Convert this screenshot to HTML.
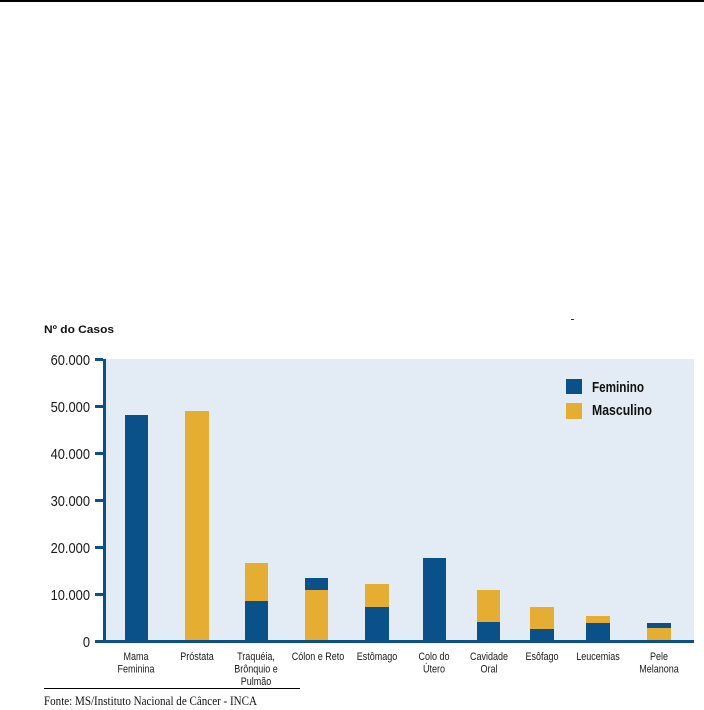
<!DOCTYPE html>
<html><head><meta charset="utf-8"><style>
html,body{margin:0;padding:0;background:#fff;}
svg{display:block;}
</style></head><body>
<svg width="704" height="710" viewBox="0 0 704 710" xmlns="http://www.w3.org/2000/svg">
<rect x="0" y="0" width="704" height="2" fill="#000"/>
<rect x="571" y="319" width="3" height="1" fill="#333"/>
<text x="44" y="333" font-family="Liberation Sans, sans-serif" font-weight="bold" font-size="11" fill="#111" textLength="70" lengthAdjust="spacingAndGlyphs">Nº do Casos</text>
<!-- plot bg -->
<rect x="106" y="359" width="588" height="281" fill="#e3ecf4"/>
<!-- bars -->
<g>
<rect x="125" y="415" width="23" height="225" fill="#0b5189"/>
<rect x="185" y="411" width="24" height="229" fill="#e5ae33"/>
<rect x="245" y="563" width="23" height="38" fill="#e5ae33"/>
<rect x="245" y="601" width="23" height="39" fill="#0b5189"/>
<rect x="305" y="578" width="23" height="12" fill="#0b5189"/>
<rect x="305" y="590" width="23" height="50" fill="#e5ae33"/>
<rect x="365" y="584" width="24" height="23" fill="#e5ae33"/>
<rect x="365" y="607" width="24" height="33" fill="#0b5189"/>
<rect x="423" y="558" width="23" height="82" fill="#0b5189"/>
<rect x="477" y="590" width="23" height="32" fill="#e5ae33"/>
<rect x="477" y="622" width="23" height="18" fill="#0b5189"/>
<rect x="530" y="607" width="24" height="22" fill="#e5ae33"/>
<rect x="530" y="629" width="24" height="11" fill="#0b5189"/>
<rect x="586" y="616" width="24" height="7" fill="#e5ae33"/>
<rect x="586" y="623" width="24" height="17" fill="#0b5189"/>
<rect x="647" y="623" width="24" height="5" fill="#0b5189"/>
<rect x="647" y="628" width="24" height="12" fill="#e5ae33"/>
</g>
<!-- axes -->
<rect x="103" y="359" width="3" height="284" fill="#0b5189"/>
<rect x="103" y="640" width="591" height="3" fill="#0b5189"/>
<g fill="#0b5189">
<rect x="95" y="358" width="8" height="3"/>
<rect x="95" y="405" width="8" height="3"/>
<rect x="95" y="452" width="8" height="3"/>
<rect x="95" y="499" width="8" height="3"/>
<rect x="95" y="546" width="8" height="3"/>
<rect x="95" y="593" width="8" height="3"/>
<rect x="95" y="640" width="8" height="3"/>
</g>
<g font-family="Liberation Sans, sans-serif" font-size="15" fill="#1a1a1a" text-anchor="end">
<text transform="translate(90,365) scale(0.86,1)">60.000</text>
<text transform="translate(90,412) scale(0.86,1)">50.000</text>
<text transform="translate(90,459) scale(0.86,1)">40.000</text>
<text transform="translate(90,506) scale(0.86,1)">30.000</text>
<text transform="translate(90,553) scale(0.86,1)">20.000</text>
<text transform="translate(90,600) scale(0.86,1)">10.000</text>
<text transform="translate(90,647) scale(0.86,1)">0</text>
</g>
<!-- legend -->
<rect x="566" y="379" width="16" height="15" fill="#0b5189"/>
<rect x="566" y="403" width="16" height="16" fill="#e5ae33"/>
<g font-family="Liberation Sans, sans-serif" font-weight="bold" font-size="15" fill="#111">
<text x="592" y="392" textLength="52" lengthAdjust="spacingAndGlyphs">Feminino</text>
<text x="592" y="415" textLength="60" lengthAdjust="spacingAndGlyphs">Masculino</text>
</g>
<!-- category labels -->
<g font-family="Liberation Sans, sans-serif" font-size="11" fill="#1a1a1a" text-anchor="middle">
<text transform="translate(136,660) scale(0.82,1)">Mama</text>
<text transform="translate(136,672.5) scale(0.82,1)">Feminina</text>
<text transform="translate(197,660) scale(0.82,1)">Próstata</text>
<text transform="translate(256,660) scale(0.82,1)">Traquéia,</text>
<text transform="translate(256,672.5) scale(0.82,1)">Brônquio e</text>
<text transform="translate(256,685) scale(0.82,1)">Pulmão</text>
<text transform="translate(318,660) scale(0.82,1)">Cólon e Reto</text>
<text transform="translate(377,660) scale(0.82,1)">Estômago</text>
<text transform="translate(434,660) scale(0.82,1)">Colo do</text>
<text transform="translate(434,672.5) scale(0.82,1)">Útero</text>
<text transform="translate(489,660) scale(0.82,1)">Cavidade</text>
<text transform="translate(489,672.5) scale(0.82,1)">Oral</text>
<text transform="translate(542,660) scale(0.82,1)">Esôfago</text>
<text transform="translate(598,660) scale(0.82,1)">Leucemias</text>
<text transform="translate(659,660) scale(0.82,1)">Pele</text>
<text transform="translate(659,672.5) scale(0.82,1)">Melanona</text>
</g>
<!-- footer -->
<rect x="44" y="688" width="256" height="1" fill="#000"/>
<text x="44" y="705" font-family="Liberation Serif, serif" font-size="12.5" fill="#111" textLength="213" lengthAdjust="spacingAndGlyphs">Fonte: MS/Instituto Nacional de Câncer - INCA</text>
</svg>
</body></html>
